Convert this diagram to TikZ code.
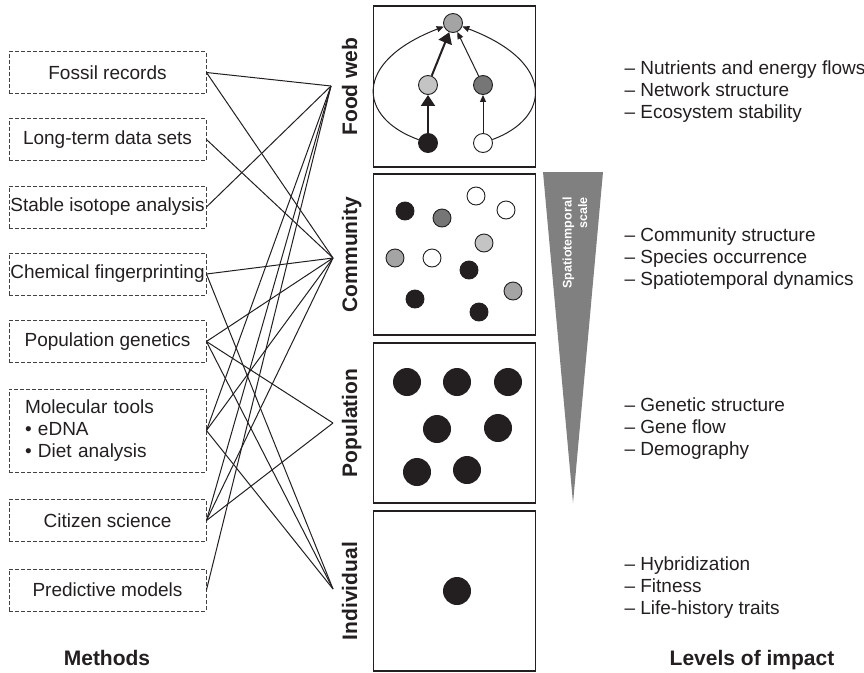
\documentclass[tikz,border=0pt]{standalone}
\usepackage{fontspec}
\setmainfont{Liberation Sans}
\usetikzlibrary{arrows.meta}
\definecolor{ink}{HTML}{231F20}
\definecolor{trigray}{HTML}{808080}
\definecolor{lgray}{HTML}{C4C4C4}
\definecolor{mgray}{HTML}{A4A4A4}
\definecolor{dgray}{HTML}{767676}

\begin{document}
\begin{tikzpicture}[x=1pt,y=-1pt,
  method/.style={draw=ink!85, dash pattern=on 4pt off 2pt, line width=0.9pt,
    minimum width=197pt, minimum height=42pt, inner sep=0pt, text=ink,
    font=\fontsize{19}{22}\selectfont},
  panel/.style={draw=ink, line width=1.2pt, minimum width=162pt,
    minimum height=161pt, inner sep=0pt},
  level/.style={rotate=90, anchor=base, text=ink,
    font=\bfseries\fontsize{21}{24}\selectfont},
  effects/.style={anchor=west, align=left, text=ink,
    font=\fontsize{19}{22}\selectfont},
  heading/.style={anchor=base, text=ink, font=\bfseries\fontsize{21}{24}\selectfont},
  link/.style={line width=1pt, draw=ink},
  sdot/.style={circle, draw=ink, line width=0.9pt, minimum size=18pt, inner sep=0pt},
  bdot/.style={circle, fill=ink, minimum size=28pt, inner sep=0pt},
  thinarr/.style={line width=1pt, draw=ink, -{Triangle[length=7pt,width=6pt]}},
  thickarr/.style={line width=2pt, draw=ink, -{Triangle[length=11pt,width=14pt]}},
]
\useasboundingbox (0,0) rectangle (864,672);

% ---- methods ----
\node[method] (m1) at (107.5,72.5)  {Fossil records};
\node[method] (m2) at (107.5,139.5) {Long-term data sets};
\node[method] (m3) at (107.5,207)   {Stable isotope analysis};
\node[method] (m4) at (107.5,274)   {Chemical fingerprinting};
\node[method] (m5) at (107.5,341.5) {Population genetics};
\node[method, minimum height=83pt, text width=165pt, align=left] (m6) at (107.5,430.5)
  {Molecular tools\\• eDNA\\• Diet analysis};
\node[method] (m7) at (107.5,520.5) {Citizen science};
\node[method] (m8) at (107.5,590)   {Predictive models};

\node[heading] (hm) at (107,665) {Methods};
\node[heading] (hl) at (752,665) {Levels of impact};

% ---- junctions at the level labels ----
\coordinate (jfw) at (331,86);
\coordinate (jcm) at (333,258);
\coordinate (jpp) at (333,423);
\coordinate (jiv) at (333,589);

\draw[link] (m1.east) -- (jfw);
\draw[link] (m1.east) -- (jcm);
\draw[link] (m2.east) -- (jcm);
\draw[link] (m3.east) -- (jfw);
\draw[link] (m4.east) -- (jcm);
\draw[link] (m4.east) -- (jiv);
\draw[link] (m5.east) -- (jcm);
\draw[link] (m5.east) -- (jpp);
\draw[link] (m5.east) -- (jiv);
\draw[link] (m6.east) -- (jfw);
\draw[link] (m6.east) -- (jcm);
\draw[link] (m6.east) -- (jiv);
\draw[link] (m7.east) -- (jfw);
\draw[link] (m7.east) -- (jcm);
\draw[link] (m7.east) -- (jpp);
\draw[link] (m8.east) -- (jfw);

% ---- level labels ----
\node[level] (lfw) at (357,86.5)  {Food web};
\node[level] (lcm) at (357,254.5) {Community};
\node[level] (lpp) at (357,423)   {Population};
\node[level] (liv) at (357,591)   {Individual};

% ---- panels ----
\node[panel] (pfw) at (454.5,86.5)  {};
\node[panel] (pcm) at (454.5,254.5) {};
\node[panel, minimum height=160pt] (ppp) at (454.5,423) {};
\node[panel, minimum height=160pt] (piv) at (454.5,591) {};

% food web
\node[sdot, fill=mgray, minimum size=19pt] (ftop) at (453,23)  {};
\node[sdot, fill=lgray, minimum size=19pt] (fml)  at (428,85)  {};
\node[sdot, fill=dgray, minimum size=19pt] (fmr)  at (483,85)  {};
\node[sdot, fill=ink,   minimum size=19pt] (fbl)  at (428,143) {};
\node[sdot, fill=white, minimum size=19pt] (fbr)  at (483,143) {};
\draw[thickarr] (fbl) -- (fml);
\draw[thickarr] (fml) -- (ftop);
\draw[thinarr] (fbr) -- (fmr);
\draw[thinarr] (fmr) -- (ftop);
\draw[thinarr] (fbl) .. controls (358,118) and (352,62) .. (ftop);
\draw[thinarr] (fbr) .. controls (551,118) and (556,62) .. (ftop);

% community
\node[sdot, fill=ink]   (c1)  at (405,211) {};
\node[sdot, fill=dgray] (c2)  at (442,218) {};
\node[sdot, fill=white] (c3)  at (476,196) {};
\node[sdot, fill=white] (c4)  at (506,210) {};
\node[sdot, fill=lgray] (c5)  at (484,243) {};
\node[sdot, fill=mgray] (c6)  at (395,258) {};
\node[sdot, fill=white] (c7)  at (432,258) {};
\node[sdot, fill=ink]   (c8)  at (469,270) {};
\node[sdot, fill=mgray] (c9)  at (513,291) {};
\node[sdot, fill=ink]   (c10) at (415,299) {};
\node[sdot, fill=ink]   (c11) at (479,312) {};

% population
\node[bdot] (p1) at (407,382) {};
\node[bdot] (p2) at (457,382) {};
\node[bdot] (p3) at (508,382) {};
\node[bdot] (p4) at (437,429) {};
\node[bdot] (p5) at (498,428) {};
\node[bdot] (p6) at (417,472) {};
\node[bdot] (p7) at (467,470) {};

% individual
\node[bdot] (i1) at (457,591) {};

% ---- scale wedge ----
\fill[trigray] (543,172) -- (603,172) -- (573,503) -- cycle;
\node[rotate=90, text=white, align=right, font=\bfseries\fontsize{12.5}{15.5}\selectfont]
  (scl) at (575,243) {Spatiotemporal\\scale};

% ---- impacts ----
\node[effects] (e1) at (621,92)
  {– Nutrients and energy flows\\– Network structure\\– Ecosystem stability};
\node[effects] (e2) at (621,259)
  {– Community structure\\– Species occurrence\\– Spatiotemporal dynamics};
\node[effects] (e3) at (621,428.5)
  {– Genetic structure\\– Gene flow\\– Demography};
\node[effects] (e4) at (621,588)
  {– Hybridization\\– Fitness\\– Life-history traits};
\end{tikzpicture}
\end{document}
